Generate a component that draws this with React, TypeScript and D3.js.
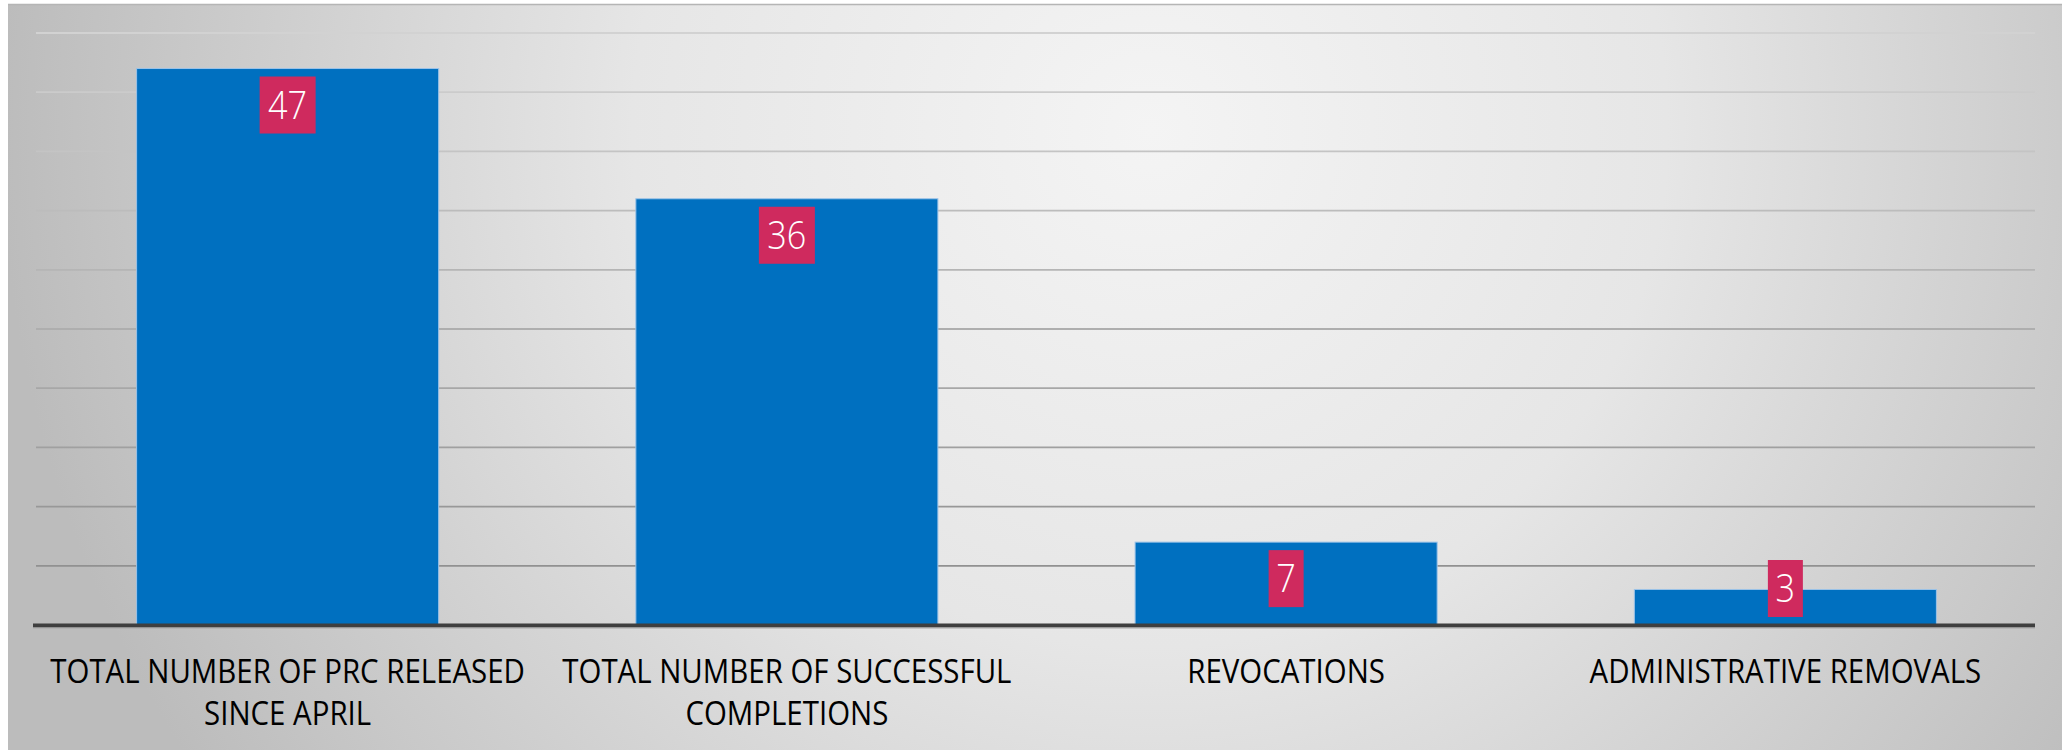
import React from "react";
import * as d3 from "d3";

const categoryLines: string[][] = [
  ["TOTAL NUMBER OF PRC RELEASED", "SINCE APRIL"],
  ["TOTAL NUMBER OF SUCCESSFUL", "COMPLETIONS"],
  ["REVOCATIONS"],
  ["ADMINISTRATIVE REMOVALS"],
];
const categoryKeys: string[] = ["prc", "success", "revocations", "admin"];
const values: number[] = [47, 36, 7, 3];
const yTicks: number[] = [0, 5, 10, 15, 20, 25, 30, 35, 40, 45, 50];

const W = 2062;
const H = 750;
const plotLeft = 36;
const plotRight = 2035;
const baseY = 625;
const topY = 33;
const squeeze = 0.92;

export default function App() {
  const x = d3
    .scaleBand<string>()
    .domain(categoryKeys)
    .range([plotLeft + 2, plotRight])
    .paddingInner(0.395)
    .paddingOuter(0.1975);
  const y = d3.scaleLinear().domain([0, 50]).range([baseY, topY]);
  const gridColor = d3.scaleLinear<string>().domain([50, 0]).range(["#d2d2d2", "#8a8a8a"]);

  const font = "'Open Sans', 'Segoe UI', sans-serif";
  const boxH = 57;

  return (
    <svg width={W} height={H} style={{ position: "absolute", left: 0, top: 0 }}>
      <defs>
        <radialGradient id="bg" gradientUnits="userSpaceOnUse" cx={1150} cy={130} r={1150} fx={1150} fy={130}>
          <stop offset="0" stopColor="#f4f4f4" />
          <stop offset="0.45" stopColor="#e6e6e6" />
          <stop offset="1" stopColor="#bcbcbc" />
        </radialGradient>
      </defs>
      <rect x={8} y={4} width={W - 8} height={H - 4} fill="url(#bg)" />
      <line x1={8} x2={W} y1={4.5} y2={4.5} stroke="#b5b5b5" strokeWidth={1.5} />
      {yTicks
        .filter((t) => t > 0)
        .map((t) => (
          <line
            key={t}
            x1={plotLeft}
            x2={plotRight}
            y1={y(t)}
            y2={y(t)}
            stroke={gridColor(t)}
            strokeWidth={1.8}
          />
        ))}
      {values.map((v, i) => (
        <rect
          key={categoryKeys[i]}
          x={x(categoryKeys[i])!}
          y={y(v)}
          width={x.bandwidth()}
          height={baseY - y(v)}
          fill="#0070C0"
          stroke="#9cc3e8"
          strokeWidth={1}
        />
      ))}
      <line x1={plotLeft - 3} x2={plotRight} y1={baseY + 0.5} y2={baseY + 0.5} stroke="#3f3f3f" strokeWidth={4} />
      <line x1={plotLeft - 3} x2={plotRight} y1={baseY + 3} y2={baseY + 3} stroke="#a8a8a8" strokeWidth={1} />
      {values.map((v, i) => {
        const cx = x(categoryKeys[i])! + x.bandwidth() / 2;
        const label = String(v);
        const boxW = label.length * 21 + 14;
        const top = Math.min(y(v) + 8, baseY - 8 - boxH);
        return (
          <g key={"lbl" + i}>
            <rect x={cx - boxW / 2} y={top} width={boxW} height={boxH} fill="#CF2A5E" />
            <text
              transform={`translate(${cx},${top + boxH / 2 + 13.5}) scale(0.9,1)`}
              textAnchor="middle"
              fill="#ffffff"
              fontFamily={font}
              fontSize={38}
              fontWeight={300}
            >
              {label}
            </text>
          </g>
        );
      })}
      {categoryLines.map((lines, i) => {
        const cx = x(categoryKeys[i])! + x.bandwidth() / 2;
        return (
          <g key={"cat" + i} transform={`translate(${cx},0) scale(${squeeze},1)`}>
            <text textAnchor="middle" fill="#000000" fontFamily={font} fontSize={32} fontWeight={400}>
              {lines.map((ln, j) => (
                <tspan key={j} x={0} y={683 + j * 42}>
                  {ln}
                </tspan>
              ))}
            </text>
          </g>
        );
      })}
    </svg>
  );
}
